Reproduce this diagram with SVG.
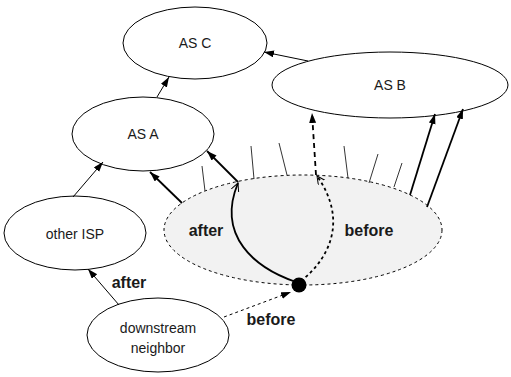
<svg xmlns="http://www.w3.org/2000/svg" width="511" height="377" viewBox="0 0 511 377">
<defs>
<style>
.node{fill:#fff;stroke:#000;stroke-width:1}
.lbl{font-family:"Liberation Sans",Arial,sans-serif;font-size:14px;fill:#1a1a1a;text-anchor:middle}
.bold{font-family:"Liberation Sans",Arial,sans-serif;font-size:16px;font-weight:bold;fill:#1a1a1a;text-anchor:middle}
.thin{stroke:#000;stroke-width:1;fill:none}
.thick{stroke:#000;stroke-width:1.8;fill:none}
.tick{stroke:#000;stroke-width:0.8;fill:none}
</style>
<marker id="ah" markerUnits="userSpaceOnUse" markerWidth="11" markerHeight="8" refX="10" refY="3.5" orient="auto">
<path d="M0,0 L10,3.5 L0,7 z" fill="#000"/>
</marker>
<marker id="oh" markerUnits="userSpaceOnUse" markerWidth="10" markerHeight="10" refX="8" refY="4" orient="auto">
<path d="M0,0 L8,4 L0,8" fill="none" stroke="#000" stroke-width="1"/>
</marker>
</defs>
<rect width="511" height="377" fill="#fff"/>
<g id="domain">
<ellipse cx="303" cy="230" rx="139" ry="55" fill="#f2f2f2" stroke="#000" stroke-width="1" stroke-dasharray="3,3"/>
</g>
<g id="ticks">
<line class="tick" x1="202" y1="166" x2="205" y2="191"/>
<line class="tick" x1="251" y1="146" x2="254" y2="179"/>
<line class="tick" x1="279" y1="143" x2="287" y2="175"/>
<line class="tick" x1="344" y1="146" x2="348" y2="178"/>
<line class="tick" x1="378" y1="154" x2="369" y2="183"/>
<line class="tick" x1="402" y1="163" x2="394" y2="187"/>
</g>
<g id="asC">
<ellipse class="node" cx="195" cy="43" rx="72" ry="36"/>
<text class="lbl" x="195" y="48">AS C</text>
</g>
<g id="asA">
<ellipse class="node" cx="143" cy="134" rx="71" ry="37"/>
<text class="lbl" x="143" y="139">AS A</text>
</g>
<g id="asB">
<ellipse class="node" cx="390" cy="85" rx="118" ry="33"/>
<text class="lbl" x="390" y="90">AS B</text>
</g>
<g id="otherISP">
<ellipse class="node" cx="75" cy="233" rx="71" ry="37"/>
<text class="lbl" x="75" y="239">other ISP</text>
</g>
<g id="downstream">
<ellipse class="node" cx="158" cy="335" rx="71" ry="37"/>
<text class="lbl" x="158" y="333">downstream</text>
<text class="lbl" x="158" y="353">neighbor</text>
</g>
<g id="connectors">
<line class="thin" x1="157" y1="97" x2="169" y2="77" marker-end="url(#ah)"/>
<line class="thin" x1="308" y1="61" x2="264" y2="52" marker-end="url(#ah)"/>
<line class="thin" x1="73" y1="197" x2="103" y2="162" marker-end="url(#ah)"/>
<line class="thin" x1="119" y1="305" x2="88" y2="269" marker-end="url(#ah)"/>
<line class="thin" x1="224" y1="317" x2="291" y2="292" stroke-dasharray="3,3" marker-end="url(#ah)"/>
<line class="thick" x1="182" y1="203" x2="150" y2="172" marker-end="url(#ah)"/>
<line class="thick" x1="238" y1="182" x2="207" y2="151" marker-end="url(#ah)"/>
<line class="thick" x1="410" y1="195" x2="435" y2="114" marker-end="url(#ah)"/>
<line class="thick" x1="427" y1="207" x2="463" y2="109" marker-end="url(#ah)"/>
<line class="thick" x1="316" y1="175" x2="312" y2="113" stroke-dasharray="5,4" marker-end="url(#ah)"/>
<path class="thick" d="M296,282 C255,268 216,236 238,183" marker-end="url(#oh)"/>
<path class="thick" d="M301,281 C330,258 348,220 317,176" stroke-dasharray="3,3" marker-end="url(#oh)"/>
<circle cx="299" cy="285" r="7.5" fill="#000"/>
</g>
<g id="labels">
<text class="bold" x="206" y="236">after</text>
<text class="bold" x="369" y="236">before</text>
<text class="bold" x="129" y="288">after</text>
<text class="bold" x="271" y="325">before</text>
</g>
</svg>
